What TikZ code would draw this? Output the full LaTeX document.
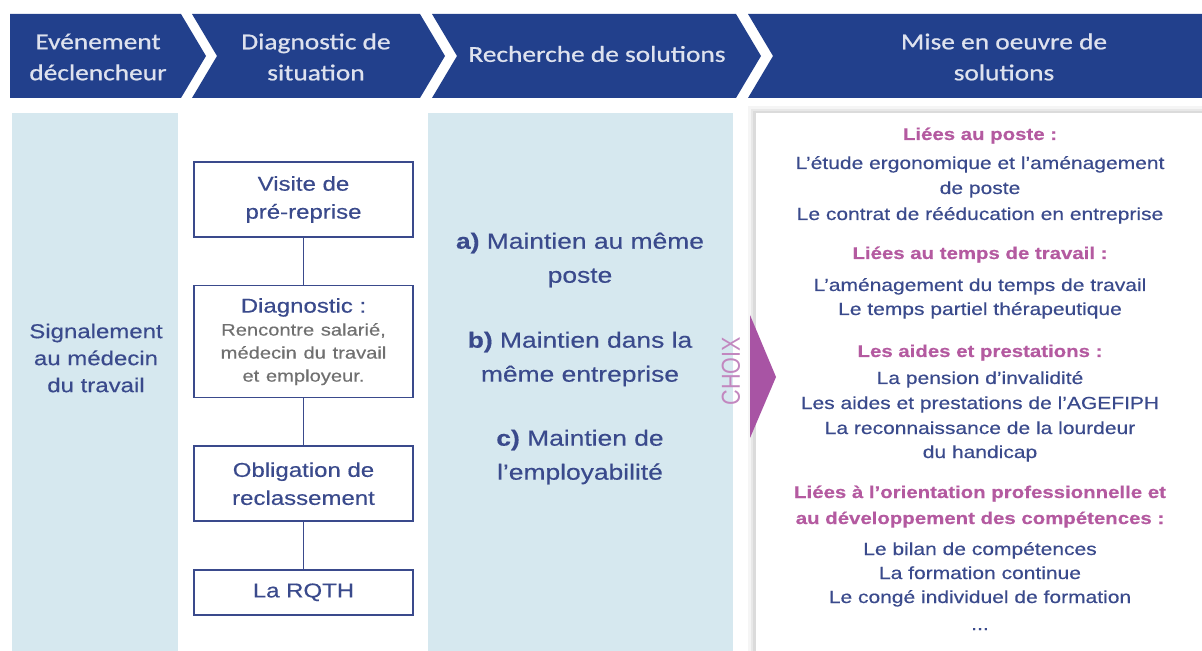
\documentclass[tikz,border=0pt]{standalone}
\usepackage{fontspec}
\setmainfont{Liberation Sans}[FakeStretch=1.2, FakeBold=0.4]
\newfontfamily\bandeaufont{Carlito}[FakeStretch=1.2, FakeBold=0.8]
\newfontfamily\choixfont{Liberation Sans}[FakeStretch=0.83]
\usetikzlibrary{positioning}

\definecolor{bandeau}{RGB}{34,64,140}
\definecolor{bandeautxt}{RGB}{222,226,238}
\definecolor{pale}{RGB}{214,232,239}
\definecolor{encre}{RGB}{58,74,140}
\definecolor{rose}{RGB}{180,90,160}
\definecolor{violet}{RGB}{168,84,164}
\definecolor{gris}{RGB}{112,112,112}

\begin{document}
\begin{tikzpicture}[x=0.5pt, y=-0.5pt, node distance=23.5pt,
  etape/.style={text=bandeautxt, align=center, font=\bandeaufont\fontsize{11.4}{15.5}\selectfont},
  boite/.style={draw=encre, line width=0.8pt, fill=white, minimum width=109.5pt,
    text width=105pt, align=center, text=encre, font=\fontsize{10}{14}\selectfont, inner sep=0pt},
  lien/.style={draw=encre, line width=0.8pt},
  colonne/.style={text=encre, align=center, font=\fontsize{10}{13.5}\selectfont},
  option/.style={text=encre, align=center, font=\fontsize{11}{17}\selectfont},
  choix/.style={text=violet!70, rotate=90, font=\choixfont\fontsize{13}{13}\selectfont},
  rubrique/.style={text=rose, anchor=base, font=\bfseries\fontsize{8.5}{10}\selectfont},
  mesure/.style={text=encre, anchor=base, font=\fontsize{8.75}{10}\selectfont}]
\useasboundingbox (0,0) rectangle (1202,651);

% bandeau des etapes
\fill[bandeau] (10,14) -- (181,14) -- (206,56) -- (181,98) -- (10,98) -- cycle;
\fill[bandeau] (192,14) -- (420,14) -- (445,56) -- (420,98) -- (192,98) -- (217,56) -- cycle;
\fill[bandeau] (432,14) -- (736,14) -- (761,56) -- (736,98) -- (432,98) -- (457,56) -- cycle;
\fill[bandeau] (748,14) -- (1202,14) -- (1202,98) -- (748,98) -- (773,56) -- cycle;
\node[etape] (evt) at (98,57) {Evénement\\déclencheur};
\node[etape] (diagsit) at (316,57) {Diagnostic de\\situation};
\node[etape] (rech) at (597,54) {Recherche de solutions};
\node[etape] (mise) at (1004,57) {Mise en oeuvre de\\solutions};

% fonds des colonnes
\fill[pale] (12,113) rectangle (178,651);
\fill[pale] (428,113) rectangle (733,651);
\fill[black!4] (748,106) rectangle (1202,651);
\fill[black!9] (751,109) rectangle (1202,651);
\fill[black!14] (753,111) rectangle (1202,651);
\fill[white] (756,113) rectangle (1202,651);

% evenement
\node[colonne] (signal) at (96,358) {Signalement\\au médecin\\du travail};

% diagnostic
\node[boite, minimum height=37.5pt] (visite) at (303.5,199.5) {Visite de\\pré-reprise};
\node[boite, minimum height=56pt, below=of visite] (diag) {Diagnostic :\par
  {\color{gris}\fontsize{8.4}{11.5}\selectfont Rencontre salarié,\\médecin du travail\\et employeur.\par}};
\node[boite, minimum height=37.5pt, below=of diag] (oblig) {Obligation de\\reclassement};
\node[boite, minimum height=22.5pt, below=of oblig] (rqth) {La RQTH};
\path[lien] (visite) -- (diag) (diag) -- (oblig) (oblig) -- (rqth);

% recherche
\node[option] (memeposte) at (580,260) {\textbf{a)} Maintien au même\\poste};
\node[option] (memeent) at (580,359) {\textbf{b)} Maintien dans la\\même entreprise};
\node[option] (employ) at (580,457) {\textbf{c)} Maintien de\\l’employabilité};

% choix
\fill[violet] (750,315) -- (776,377) -- (750,438) -- cycle;
\node[choix] (choixtxt) at (731,371) {CHOIX};

% mise en oeuvre
\foreach \y/\t in {140/Liées au poste :, 259/Liées au temps de travail :,
    357/Les aides et prestations :, 498/Liées à l’orientation professionnelle et,
    524/au développement des compétences :}
  \node[rubrique] (r\y) at (980,\y) {\t};
\foreach \y/\t in {169/L’étude ergonomique et l’aménagement, 194/de poste,
    220/Le contrat de rééducation en entreprise,
    291/L’aménagement du temps de travail, 315/Le temps partiel thérapeutique,
    384/La pension d’invalidité, 409/Les aides et prestations de l’AGEFIPH,
    434/La reconnaissance de la lourdeur, 458/du handicap,
    555/Le bilan de compétences, 579/La formation continue,
    603/Le congé individuel de formation}
  \node[mesure] (m\y) at (980,\y) {\t};
\node[mesure] (suite) at (980,630) {...};

\end{tikzpicture}
\end{document}
